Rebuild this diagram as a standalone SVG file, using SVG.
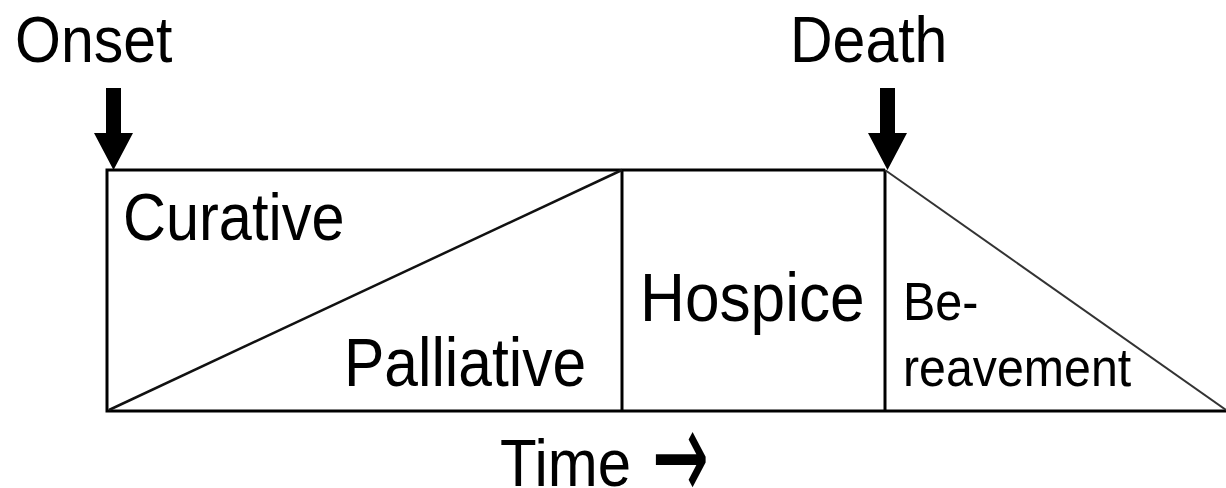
<svg xmlns="http://www.w3.org/2000/svg" width="1226" height="488" viewBox="0 0 1226 488">
<style>
.t{font-family:"Liberation Sans",Arial,sans-serif;fill:#000}
.box{fill:none;stroke:#000;stroke-width:3}
.diag{stroke:#111;stroke-width:2.5;fill:none}
.diag2{stroke:#333;stroke-width:2;fill:none}
.arr{fill:#000}
</style>
<rect width="1226" height="488" fill="#fff"/>
<g id="connectors">
<polyline class="box" points="885,170 107,170 107,411 1226,411"/>
<line class="box" x1="622" y1="170" x2="622" y2="411"/>
<line class="box" x1="885" y1="170" x2="885" y2="411"/>
<line class="diag" x1="109" y1="410" x2="622" y2="170"/>
<line class="diag2" x1="885" y1="170" x2="1226" y2="410"/>
<polygon class="arr" points="106,88 121,88 121,133 133,133 113.5,170 94,133 106,133"/>
<polygon class="arr" points="880,88 895,88 895,133 907,133 887.5,170 868,133 880,133"/>
</g>
<g id="onset"><g transform="translate(15,62) scale(1,1.1)"><text class="t" font-size="59">Onset</text></g></g>
<g id="death"><g transform="translate(790,62) scale(1,1.1)"><text class="t" font-size="59">Death</text></g></g>
<g id="curative"><g transform="translate(123,240) scale(1,1.12)"><text class="t" font-size="59.5">Curative</text></g></g>
<g id="palliative"><g transform="translate(344,386) scale(1,1.13)"><text class="t" font-size="60.5">Palliative</text></g></g>
<g id="hospice"><g transform="translate(640,321) scale(1,1.09)"><text class="t" font-size="62.2">Hospice</text></g></g>
<g id="bereavement"><g transform="translate(903,320) scale(1,1.1)"><text class="t" font-size="48.5">Be-</text></g><g transform="translate(903,386) scale(1,1.1)"><text class="t" font-size="48.3">reavement</text></g></g>
<g id="time"><g transform="translate(500,486) scale(1,1.1)"><text class="t" font-size="60">Time</text></g><g transform="translate(652,500) scale(1,1.9)"><text font-family="DejaVu Sans,sans-serif" font-size="68" fill="#000">→</text></g></g>
</svg>
